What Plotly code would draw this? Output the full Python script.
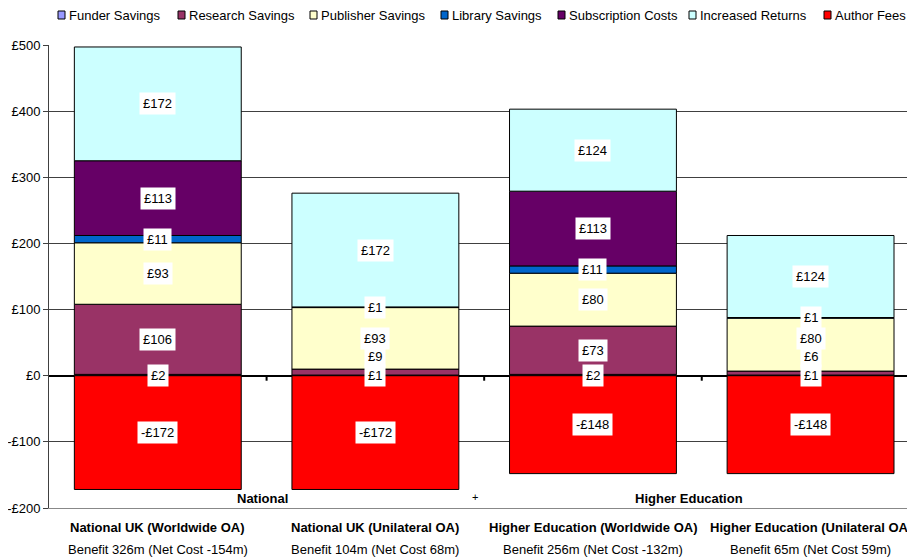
import plotly.graph_objects as go

# ---------------- data ----------------
categories = ["National UK (Worldwide OA)", "National UK (Unilateral OA)",
              "Higher Education (Worldwide OA)", "Higher Education (Unilateral OA)"]
benefit_labels = ["Benefit 326m (Net Cost -154m)", "Benefit 104m (Net Cost 68m)",
                  "Benefit 256m (Net Cost -132m)", "Benefit 65m (Net Cost 59m)"]
group_labels = ["National", "Higher Education"]

series_names = ["Funder Savings", "Research Savings", "Publisher Savings", "Library Savings",
                "Subscription Costs", "Increased Returns", "Author Fees"]
funder_savings = [2, 1, 2, 1]
research_savings = [106, 9, 73, 6]
publisher_savings = [93, 93, 80, 80]
library_savings = [11, 1, 11, 1]
subscription_costs = [113, None, 113, None]
increased_returns = [172, 172, 124, 124]
author_fees = [-172, -172, -148, -148]

y_tick_values = [-200, -100, 0, 100, 200, 300, 400, 500]
y_tick_labels = ["-£200", "-£100", "£0", "£100", "£200", "£300", "£400", "£500"]

# ---------------- styles ----------------
colors = ["#9999FF", "#993366", "#FFFFCC", "#0066CC", "#660066", "#CCFFFF", "#FF0000"]
series_values = [funder_savings, research_savings, publisher_savings, library_savings,
                 subscription_costs, increased_returns, author_fees]

OFF = 8  # page body margin
W, H = 915 - OFF, 558 - OFF
ML, MR, MT, MB = 49 - OFF, 0, 45 - OFF, 50
PW, PH = W - ML - MR, H - MT - MB
FONT = "Liberation Sans, Arial, sans-serif"
FS = 13

xs = list(range(len(categories)))

fig = go.Figure()
for name, vals, col in zip(series_names, series_values, colors):
    fig.add_trace(go.Bar(
        x=xs, y=vals, name=name,
        marker=dict(color=col, line=dict(color="black", width=1)),
        showlegend=False, hoverinfo="skip",
    ))

annotations = []

def fmt(v):
    return ("-£%d" % abs(v)) if v < 0 else ("£%d" % v)

# data labels (centered in segment, nudged upward to avoid overlap)
MIN_GAP = 28
for i in xs:
    base = 0
    prev = None
    for vals in series_values[:-1]:
        v = vals[i]
        if v is None:
            continue
        mid = base + v / 2
        yv = mid if prev is None else max(mid, prev + MIN_GAP)
        prev = yv
        base += v
        annotations.append(dict(x=i, y=yv, xref="x", yref="y", text=fmt(v), showarrow=False,
                                bgcolor="white", borderpad=3,
                                font=dict(family=FONT, size=FS, color="black")))
    v = author_fees[i]
    annotations.append(dict(x=i, y=v / 2, xref="x", yref="y", text=fmt(v), showarrow=False,
                            bgcolor="white", borderpad=3,
                            font=dict(family=FONT, size=FS, color="black")))

# category labels under axis (page y 527 and 549; plot bottom at 508)
for i, (c, b) in enumerate(zip(categories, benefit_labels)):
    annotations.append(dict(x=i, y=-19 / PH, xref="x", yref="paper",
                            text="<b>%s</b>" % c, showarrow=False, yanchor="middle",
                            font=dict(family=FONT, size=FS, color="black")))
    annotations.append(dict(x=i, y=-41 / PH, xref="x", yref="paper",
                            text=b, showarrow=False, yanchor="middle",
                            font=dict(family=FONT, size=FS, color="black")))

# group labels
group_x = [0.48, 2.44]
for gx, g in zip(group_x, group_labels):
    annotations.append(dict(x=gx, y=10 / PH, xref="x", yref="paper", text="<b>%s</b>" % g,
                            showarrow=False, yanchor="middle",
                            font=dict(family=FONT, size=FS, color="black")))
annotations.append(dict(x=1.458, y=11 / PH, xref="x", yref="paper", text="+",
                        showarrow=False, yanchor="middle",
                        font=dict(family=FONT, size=11, color="black")))

# custom legend (page pixel positions of the legend texts)
legend_text_px = [67, 187, 319, 450, 567, 698, 833]
shapes = []
leg_y = 15  # page y
plot_bottom_page = 508
for name, col, tx in zip(series_names, colors, legend_text_px):
    shapes.append(dict(type="rect", xref="paper", yref="paper",
                       x0=(tx - 9 - OFF - ML) / PW, x1=(tx - 2 - OFF - ML) / PW,
                       y0=(plot_bottom_page - (leg_y + 4)) / PH, y1=(plot_bottom_page - (leg_y - 4)) / PH,
                       fillcolor=col, line=dict(color="black", width=1)))
    annotations.append(dict(x=(tx - OFF - ML) / PW, y=(plot_bottom_page - leg_y) / PH,
                            xref="paper", yref="paper",
                            text=name, showarrow=False, xanchor="left", yanchor="middle",
                            font=dict(family=FONT, size=FS, color="black")))

# category tick marks on the zero line
for bx in [0.5, 1.5, 2.5]:
    shapes.append(dict(type="line", xref="x", yref="y", x0=bx, x1=bx,
                       ysizemode="pixel", yanchor=0, y0=0, y1=-5,
                       line=dict(color="black", width=2)))

fig.update_layout(
    width=W, height=H,
    margin=dict(l=ML, r=MR, t=MT, b=MB),
    barmode="relative", bargap=0.233,
    plot_bgcolor="white", paper_bgcolor="white",
    font=dict(family=FONT, size=FS, color="black"),
    annotations=annotations, shapes=shapes,
    showlegend=False,
    xaxis=dict(range=[-0.5, 3.48], showticklabels=False, showgrid=False, zeroline=False,
               showline=True, linecolor="#888888", linewidth=1, ticks=""),
    yaxis=dict(range=[-200, 500], tickvals=y_tick_values, ticktext=y_tick_labels,
               showgrid=True, gridcolor="#404040", gridwidth=1,
               zeroline=True, zerolinecolor="black", zerolinewidth=2,
               showline=True, linecolor="#404040", linewidth=1,
               ticks="outside", ticklen=5, tickcolor="#404040",
               tickfont=dict(family=FONT, size=FS, color="black")),
)

fig.write_html("out.html")
